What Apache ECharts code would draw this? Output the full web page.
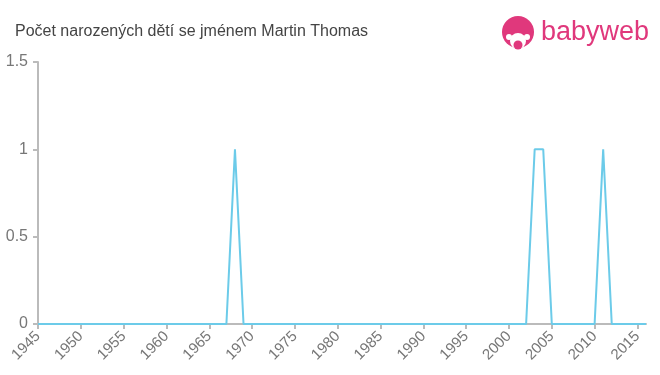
<!DOCTYPE html>
<html>
<head>
<meta charset="utf-8">
<script src="https://cdn.jsdelivr.net/npm/echarts@6/dist/echarts.min.js"></script>
<style>html,body{margin:0;padding:0;background:#fff;}#c{width:660px;height:375px;}</style>
</head>
<body>
<div id="c"></div>
<script>
const titleText = 'Počet narozených dětí se jménem Martin Thomas';
const years = [1945,1946,1947,1948,1949,1950,1951,1952,1953,1954,1955,1956,1957,1958,1959,1960,1961,1962,1963,1964,1965,1966,1967,1968,1969,1970,1971,1972,1973,1974,1975,1976,1977,1978,1979,1980,1981,1982,1983,1984,1985,1986,1987,1988,1989,1990,1991,1992,1993,1994,1995,1996,1997,1998,1999,2000,2001,2002,2003,2004,2005,2006,2007,2008,2009,2010,2011,2012,2013,2014,2015,2016];
const counts = [0,0,0,0,0,0,0,0,0,0,0,0,0,0,0,0,0,0,0,0,0,0,0,1,0,0,0,0,0,0,0,0,0,0,0,0,0,0,0,0,0,0,0,0,0,0,0,0,0,0,0,0,0,0,0,0,0,0,1,1,0,0,0,0,0,0,1,0,0,0,0,0];
const xTicks = [1945,1950,1955,1960,1965,1970,1975,1980,1985,1990,1995,2000,2005,2010,2015];
const yTicks = [0,0.5,1,1.5];

const chart = echarts.init(document.getElementById('c'), null, {renderer:'canvas'});
const font = 'Liberation Sans, Arial, sans-serif';
chart.setOption({
  animation:false,
  title:{text:titleText,left:10,top:19,textStyle:{fontFamily:font,fontSize:16,fontWeight:'normal',color:'#444'}},
  grid:{left:38,right:14,top:62,bottom:51},
  xAxis:{type:'value',min:1945,max:2016,
    axisLine:{lineStyle:{color:'#bbb',width:2}},
    axisTick:{show:true,length:5,lineStyle:{color:'#bbb',width:2},customValues:xTicks},
    axisLabel:{customValues:xTicks,rotate:45,fontFamily:font,fontSize:15,color:'#777',margin:10,formatter:v=>String(v)},
    splitLine:{show:false}},
  yAxis:{type:'value',min:0,max:1.5,interval:0.5,
    axisLine:{show:true,lineStyle:{color:'#bbb',width:2}},
    axisTick:{show:true,length:5,lineStyle:{color:'#bbb',width:2}},
    axisLabel:{fontFamily:font,fontSize:16,color:'#777',margin:10,formatter:v=>String(v)},
    splitLine:{show:false}},
  series:[{type:'line',data:years.map((y,i)=>[y,counts[i]]),showSymbol:false,symbol:'none',
    lineStyle:{color:'#6ccbe9',width:2},itemStyle:{color:'#6ccbe9'}}],
  graphic:[
    {type:'circle',shape:{cx:518,cy:32,r:16},style:{fill:'#e0387c'}},
    {type:'circle',shape:{cx:518,cy:41,r:8},style:{fill:'#fff'}},
    {type:'circle',shape:{cx:518,cy:45,r:4.5},style:{fill:'#e0387c'}},
    {type:'circle',shape:{cx:509,cy:37,r:3},style:{fill:'#fff'}},
    {type:'circle',shape:{cx:527,cy:37,r:3},style:{fill:'#fff'}},
    {type:'text',left:541,top:19,style:{text:'babyweb',font:'27px '+font,fill:'#e0387c'}}
  ]
});
</script>
</body>
</html>
